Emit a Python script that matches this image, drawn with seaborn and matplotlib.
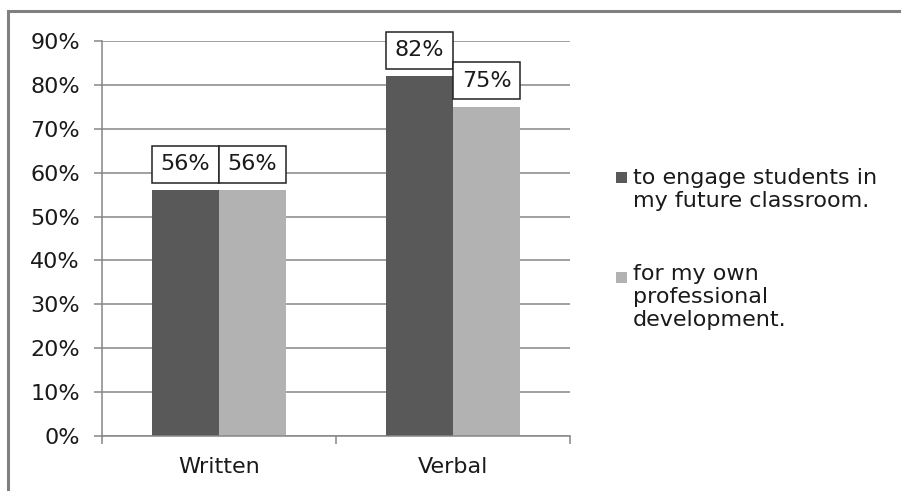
import matplotlib
matplotlib.use("Agg")
import matplotlib.pyplot as plt
import pandas as pd
import seaborn as sns
from matplotlib.patches import Rectangle
from matplotlib.ticker import FixedLocator, PercentFormatter

# Survey data: share of respondents per format and purpose
formats = ["Written", "Verbal"]
purposes = ["to engage students in\nmy future classroom.",
            "for my own\nprofessional\ndevelopment."]
engage_students = [0.56, 0.82]
professional_dev = [0.56, 0.75]
y_ticks = [0.0, 0.1, 0.2, 0.3, 0.4, 0.5, 0.6, 0.7, 0.8, 0.9]

bar_colors = ["#595959", "#b2b2b2"]
line_gray = "#868686"
text_color = "#1a1a1a"

df = pd.DataFrame({
    "Format": formats * 2,
    "Purpose": [purposes[0]] * len(formats) + [purposes[1]] * len(formats),
    "Share": engage_students + professional_dev,
})

sns.set_theme(style="white")
plt.rcParams["font.family"] = ["DejaVu Sans"]

W, H = 901, 491
fig = plt.figure(figsize=(W / 100, H / 100), dpi=100)


def fx(px):
    return px / W


def fy(py):
    return 1 - py / H


ax = fig.add_axes([fx(102), fy(436), fx(570) - fx(102), fy(41) - fy(436)])

sns.barplot(data=df, x="Format", y="Share", hue="Purpose",
            order=formats, hue_order=purposes, palette=bar_colors,
            width=0.573, saturation=1, linewidth=0, errorbar=None,
            legend=False, ax=ax)

ax.set_xlim(-0.5, 1.5)
ax.set_ylim(0, 0.9)
ax.set_xlabel("")
ax.set_ylabel("")

# Axes styling
ax.yaxis.set_major_locator(FixedLocator(y_ticks))
ax.yaxis.set_major_formatter(PercentFormatter(1.0, decimals=0))
ax.yaxis.grid(True, color=line_gray, linewidth=1.1)
ax.set_axisbelow(True)
for side in ("top", "right"):
    ax.spines[side].set_visible(False)
for side in ("left", "bottom"):
    ax.spines[side].set_color(line_gray)
    ax.spines[side].set_linewidth(1.1)

ax.tick_params(axis="y", left=True, length=5.8, width=1.1, color=line_gray,
               direction="out", pad=10, labelsize=16, labelcolor=text_color)
ax.xaxis.set_minor_locator(FixedLocator([-0.5, 0.5, 1.5]))
ax.tick_params(axis="x", which="major", bottom=True, length=0, pad=15,
               labelsize=16, labelcolor=text_color)
ax.tick_params(axis="x", which="minor", bottom=True, length=5.8, width=1.1,
               color=line_gray, direction="out")

# Boxed value labels above each bar
for container in ax.containers:
    for bar in container:
        h = bar.get_height()
        ax.annotate(f"{h:.0%}", (bar.get_x() + bar.get_width() / 2, h),
                    xytext=(0, 26), textcoords="offset pixels",
                    ha="center", va="center", fontsize=16, color=text_color,
                    bbox=dict(boxstyle="square,pad=0.38", fc="white",
                              ec="#222222", lw=1.1),
                    zorder=5)

# Legend entries
legend_rows = [(172, 189.5), (272, 297)]
for color, label, (sq_top, text_mid) in zip(bar_colors, purposes, legend_rows):
    fig.add_artist(Rectangle((fx(616), fy(sq_top + 11)), fx(11), 11 / H,
                             transform=fig.transFigure, fc=color, ec="none"))
    fig.text(fx(633), fy(text_mid), label, ha="left", va="center",
             fontsize=16, color=text_color, linespacing=1.17)

# Chart frame
fig.add_artist(Rectangle((fx(8), -0.2), 2, fy(10.5) + 0.2,
                         transform=fig.transFigure, fill=False,
                         ec="#808080", lw=2.2, clip_on=False))

fig.savefig("out.png", dpi=100)
